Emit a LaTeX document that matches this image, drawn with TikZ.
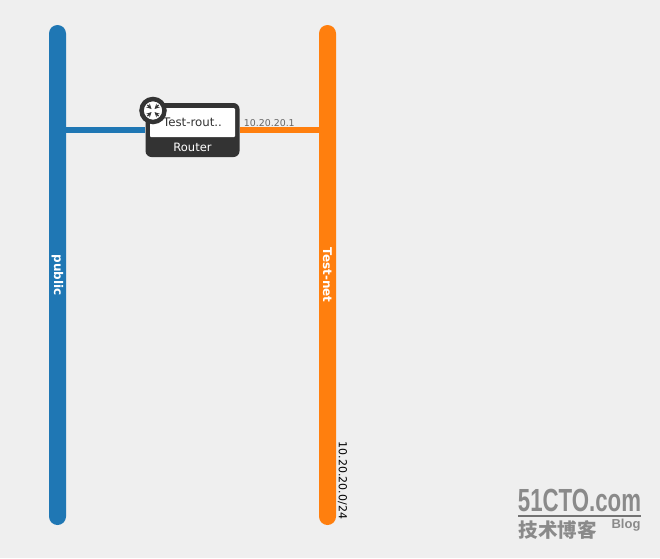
\documentclass[tikz,border=0pt]{standalone}
\usepackage{xcolor}
\usepackage{fontspec}
\setmainfont{DejaVu Sans}
\newfontfamily\cjk{Noto Sans CJK SC}
\newfontfamily\wmfont{Liberation Sans}
\usetikzlibrary{shapes,arrows,positioning}

\definecolor{pagebg}{HTML}{EFEFEF}
\definecolor{netblue}{HTML}{1F77B4}
\definecolor{netorange}{HTML}{FF7F0E}
\definecolor{routerdark}{HTML}{333333}
\definecolor{markgray}{HTML}{8A8A8A}

\begin{document}
\begin{tikzpicture}[x=1pt, y=-1pt, node distance=0pt, auto]
\tikzstyle{net} = [rectangle, rotate=-90, minimum width=500pt, minimum height=17pt, inner sep=0pt, rounded corners=8.5pt, text=white, font=\bfseries\fontsize{12}{12}\selectfont]
\tikzstyle{link} = [line width=6pt]
\tikzstyle{wmtext} = [text=markgray, inner sep=0pt]
\tikzstyle{hub} = [->, >=stealth, line width=1.3pt, routerdark]

\fill [pagebg] (0,0) rectangle (660,558);
\useasboundingbox (0,0) rectangle (660,558);

\node [net, fill=netblue] (public) at (57.5,275) {public};
\node [net, fill=netorange] (testnet) at (327.5,275) {Test-net};

\node [rectangle, fill=routerdark, rounded corners=6pt, minimum width=94pt, minimum height=54pt, inner sep=0pt] (router) at (192.5,130) {};
\draw [link, netblue] (public.center |- router.west) -- (router.west);
\draw [link, netorange] (router.east) -- (testnet.center |- router.east);

\node [rectangle, fill=white, rounded corners=1pt, minimum width=85pt, minimum height=29pt, inner sep=0pt, text=routerdark, font=\fontsize{11.8}{11.8}\selectfont] (routername) at (192.5,122.5) {Test-rout..};
\node [below=5.5pt of routername, inner sep=0pt, text=white, font=\fontsize{11.5}{11.5}\selectfont] (routertype) {Router};
\node [circle, draw=routerdark, fill=white, line width=4.5pt, minimum size=23pt, inner sep=0pt] (routericon) at (153,110.5) {};
\coordinate (hubc) at (routericon.center);
\foreach \dx/\dy in {1/1, 1/-1, -1/1, -1/-1} {
  \coordinate (hubo) at ([xshift=\dx*5.6pt, yshift=\dy*5.6pt]hubc);
  \coordinate (hubi) at ([xshift=\dx*1.5pt, yshift=\dy*1.5pt]hubc);
  \draw [hub] (hubo) -- (hubi);
}

\node [right=4pt of router.east, yshift=7pt, inner sep=0pt, text=black!60, font=\fontsize{9.4}{9.4}\selectfont] (ipaddr) {10.20.20.1};
\node [rotate=-90, inner sep=0pt, font=\fontsize{11}{11}\selectfont] (subnet) at (342.5,480.5) {10.20.20.0/24};

% watermark
\node [wmtext, font=\wmfont\bfseries\fontsize{32}{32}\selectfont, xscale=0.695] (wmsite) at (579.5,500) {51CTO.com};
\node [rectangle, fill=black!55, minimum width=123pt, minimum height=2pt, inner sep=0pt] (wmline) at (579.5,515.5) {};
\node [wmtext, font=\cjk\bfseries\fontsize{19.5}{19.5}\selectfont] (wmname) at (557.5,530) {技术博客};
\node [wmtext, font=\wmfont\bfseries\fontsize{13}{13}\selectfont] (wmblog) at (626,525) {Blog};
\end{tikzpicture}
\end{document}
